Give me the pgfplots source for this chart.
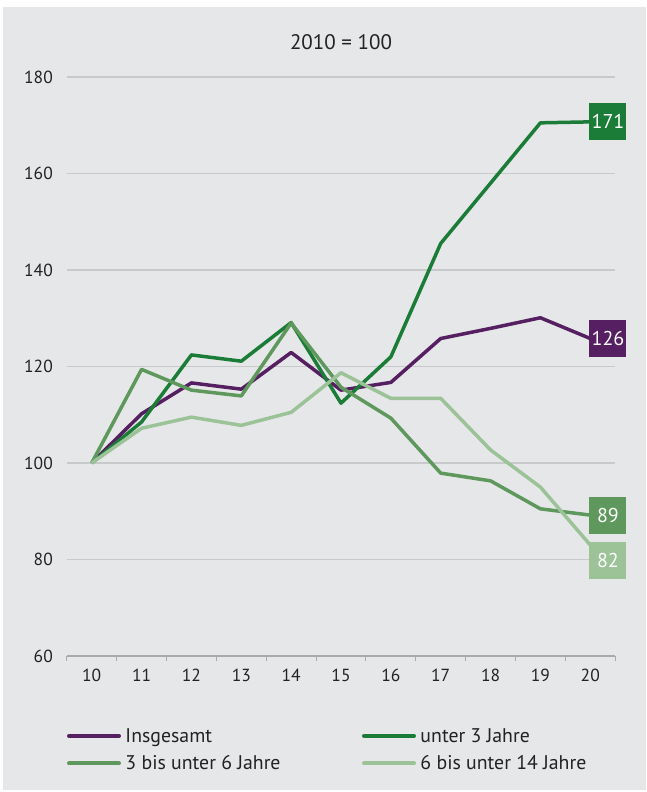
\documentclass[border=0pt]{standalone}
\usepackage{pgfplots}
\pgfplotsset{compat=1.18}
\usepackage{fontspec}
\setmainfont{PT Sans}
\definecolor{bgc}{HTML}{E6E7E9}
\definecolor{gridc}{HTML}{C8C9CB}
\definecolor{axisc}{HTML}{A9AAAC}
\definecolor{txt}{HTML}{222222}
\definecolor{cpurple}{HTML}{561F62}
\definecolor{cdark}{HTML}{1A7C36}
\definecolor{cmed}{HTML}{5F985C}
\definecolor{clight}{HTML}{9CC298}
\begin{document}
\begin{tikzpicture}
\fill[white] (-66.8bp,-136bp) rectangle (580.2bp,656bp);
\fill[bgc] (-63.8bp,-134bp) rectangle (579.2bp,649bp);
\begin{axis}[
  scale only axis, width=548.4bp, height=579bp,
  xmin=9.5, xmax=20.5, ymin=60, ymax=180,
  ytick={60,80,...,180}, xtick={10,...,20},
  axis x line*=bottom, axis y line*=left,
  x axis line style={draw=axisc, line width=1.2bp},
  y axis line style={draw=none},
  ymajorgrids, grid style={gridc, line width=1.2bp},
  major tick length=0pt,
  extra x ticks={9.5,10.5,...,20.5},
  extra x tick style={xticklabel={}, major tick length=5bp, tick align=outside, tick style={draw=axisc, line width=1bp}},
  /pgf/number format/assume math mode=true,
  ticklabel style={font=\fontsize{17.5bp}{20bp}\selectfont, text=txt},
  y tick label style={inner sep=0pt, xshift=-13.8bp},
  x tick label style={inner sep=0pt, yshift=-13bp},
  clip=false,
  legend cell align=left,
  legend columns=2,
  legend style={draw=none, fill=none, at={(axis description cs:0,0)}, anchor=north west, yshift=-72bp,
    font=\fontsize{19.8bp}{23bp}\selectfont, text=txt, nodes={inner sep=0pt}, column sep=0pt, row sep=12bp,
    inner sep=0pt, /tikz/every odd column/.style={column sep=4.5bp}},
  legend image code/.code={\draw[line width=4bp, line cap=round] (0bp,0bp) -- (50bp,0bp);},
  every axis plot/.append style={line width=3.5bp, line join=round},
]
\addplot[cpurple] coordinates {(10,100) (11,110.2) (12,116.6) (13,115.3) (14,122.9) (15,115.1) (16,116.7) (17,125.8) (18,127.9) (19,130.1) (20,125.8)};
\addlegendentry{\makebox[236.5bp][l]{Insgesamt}}
\addplot[cdark] coordinates {(10,100) (11,108.5) (12,122.4) (13,121.1) (14,129.1) (15,112.4) (16,122.0) (17,145.5) (18,158.0) (19,170.5) (20,170.7)};
\addlegendentry{unter 3 Jahre}
\addplot[cmed] coordinates {(10,100) (11,119.4) (12,115.1) (13,113.9) (14,129.0) (15,115.7) (16,109.3) (17,97.9) (18,96.3) (19,90.5) (20,89.2)};
\addlegendentry{\makebox[236.5bp][l]{3 bis unter 6 Jahre}}
\addplot[clight] coordinates {(10,100) (11,107.2) (12,109.5) (13,107.8) (14,110.5) (15,118.7) (16,113.4) (17,113.4) (18,102.7) (19,95.0) (20,83.0)};
\addlegendentry{6 bis unter 14 Jahre}
\begin{scope}[every node/.style={anchor=west, text=white, inner sep=0pt, minimum width=37bp, minimum height=37bp, font=\fontsize{20bp}{24bp}\selectfont}]
\node[fill=cdark] at (axis cs:19.98,170.7) {171};
\node[fill=cpurple] at (axis cs:19.98,125.8) {126};
\node[fill=cmed] at (axis cs:19.98,89.2) {89};
\node[fill=clight] at (axis cs:19.98,79.7) {82};
\end{scope}
\node[text=txt, font=\fontsize{21bp}{24bp}\selectfont] at (rel axis cs:0.5,1) [yshift=35bp] {2010 = 100};
\end{axis}
\end{tikzpicture}
\end{document}
